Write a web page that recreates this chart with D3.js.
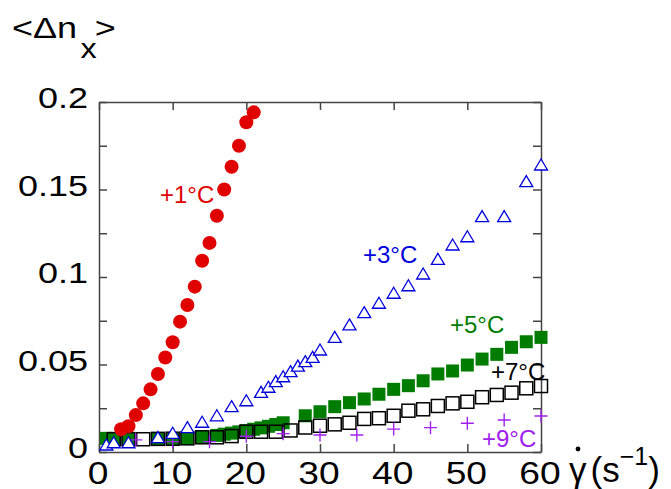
<!DOCTYPE html>
<meta charset="utf-8">
<style>
body { margin: 0; background: #fff; }
text { font-family: "Liberation Sans", Arial, sans-serif; }
</style>
<body>
<script src="https://d3js.org/d3.v7.min.js"></script>
<script>
// +1°C, filled red circles
var redX = [3, 4, 5, 6, 7, 8, 9, 10, 11, 12, 13, 14, 15, 16, 17, 18, 19, 20, 21];
var redY = [0.013, 0.0147, 0.0211, 0.0278, 0.0358, 0.0446, 0.054, 0.0627, 0.0745, 0.084,
            0.0945, 0.1093, 0.1195, 0.135, 0.150, 0.163, 0.175, 0.1884, 0.1941];
// +3°C, open blue triangles
var blueX = [1, 2, 4, 8, 10, 12, 14, 16, 18, 20, 22, 23, 24, 25, 26, 27, 28, 29, 30,
             32, 34, 36, 38, 40, 42, 44, 46, 48, 50, 52, 55, 58, 60];
var blueY = [0.004, 0.0053, 0.0053, 0.0082, 0.0107, 0.0139, 0.017, 0.0207, 0.0259, 0.0293,
             0.0341, 0.037, 0.0402, 0.043, 0.0459, 0.0491, 0.0516, 0.0541, 0.0583,
             0.0655, 0.0726, 0.0796, 0.085, 0.0907, 0.095, 0.1017, 0.1101, 0.1183, 0.123,
             0.1345, 0.1345, 0.1545, 0.164];
// +5°C, filled green squares
var greenX = [1, 2, 4, 8, 10, 12, 14, 16, 17, 18, 19, 20, 21, 22, 23, 24, 25,
              28, 30, 32, 34, 36, 38, 40, 42, 44, 46, 48, 50, 52, 54, 56, 58, 60];
var greenY = [0.0078, 0.0078, 0.0078, 0.0073, 0.0073, 0.0078, 0.0087, 0.0095, 0.0102, 0.0108,
              0.0115, 0.0122, 0.013, 0.0138, 0.0147, 0.0157, 0.0167,
              0.0207, 0.023, 0.0259, 0.0282, 0.0303, 0.033, 0.0358, 0.0379, 0.0407, 0.0446,
              0.0463, 0.0497, 0.0531, 0.0558, 0.0598, 0.063, 0.0655];
// +7°C, open black squares
var blackX = [2, 4, 6, 8, 10, 12, 14, 16, 18, 20, 22, 24, 26, 28, 30, 32, 34, 36, 38, 40,
              42, 44, 46, 48, 50, 52, 54, 56, 58, 60];
var blackY = [0.0073, 0.0073, 0.0073, 0.0075, 0.0076, 0.0078, 0.0084, 0.0084, 0.0091, 0.0116,
              0.0116, 0.0116, 0.0123, 0.014, 0.015, 0.0158, 0.0167, 0.0189, 0.0193, 0.0207,
              0.0236, 0.0244, 0.0263, 0.0278, 0.0287, 0.0313, 0.0326, 0.0339, 0.0364, 0.0377];
// +9°C, purple crosses
var purpleX = [5, 10, 15, 20, 25, 30, 35, 40, 45, 50, 55, 60];
var purpleY = [0.0069, 0.0059, 0.0059, 0.009, 0.0105, 0.0097, 0.0097, 0.0131, 0.0139,
               0.0164, 0.0183, 0.0206];

var xTicks = [0, 10, 20, 30, 40, 50, 60];
var yTicks = [0, 0.025, 0.05, 0.075, 0.1, 0.125, 0.15, 0.175, 0.2];
var yLabels = [0, 0.05, 0.1, 0.15, 0.2];

var width = 671, height = 489;
var mLeft = 99, mRight = 541, mTop = 102, mBottom = 452;
var sx = 1.2; // the axis lettering is drawn a bit wide

var x = d3.scaleLinear().domain([0, 60]).range([mLeft, mRight]);
var y = d3.scaleLinear().domain([0, 0.2]).range([mBottom, mTop]);

var svg = d3.select("body").append("svg")
    .attr("width", width)
    .attr("height", height);

// frame with inward ticks
var frameColor = "#444";
svg.append("g").attr("transform", "translate(" + mLeft + ",0)")
    .call(d3.axisLeft(y).tickValues(yTicks).tickSizeInner(-8).tickSizeOuter(0).tickFormat(""));
svg.append("g").attr("transform", "translate(" + mRight + ",0)")
    .call(d3.axisRight(y).tickValues(yTicks).tickSizeInner(-8).tickSizeOuter(0).tickFormat(""));
svg.append("g").attr("transform", "translate(0," + mBottom + ")")
    .call(d3.axisBottom(x).tickValues(xTicks).tickSizeInner(-8).tickSizeOuter(0).tickFormat(""));
svg.append("g").attr("transform", "translate(0," + mTop + ")")
    .call(d3.axisTop(x).tickValues(xTicks).tickSizeInner(-8).tickSizeOuter(0).tickFormat(""));
svg.selectAll(".domain, .tick line").attr("stroke", frameColor).attr("stroke-width", 1.5);

// tick labels
svg.selectAll(".ylab").data(yLabels).enter().append("text")
    .attr("transform", function(d) { return "translate(88," + (y(d) + 6) + ") scale(" + sx + ",1)"; })
    .attr("text-anchor", "end")
    .attr("font-size", 30)
    .text(function(d) { return String(d); });
svg.selectAll(".xlab").data(xTicks).enter().append("text")
    .attr("transform", function(d) { return "translate(" + (x(d) - 1) + ",484) scale(" + sx + ",1)"; })
    .attr("text-anchor", "middle")
    .attr("font-size", 31)
    .text(function(d) { return String(d); });

// axis titles
var yt = svg.append("g").attr("transform", "translate(12,38) scale(" + sx + ",1)");
yt.append("text").attr("font-size", 30).text("<Δn");
yt.append("text").attr("x", 57).attr("y", 20).attr("font-size", 27).text("x");
yt.append("text").attr("x", 69).attr("font-size", 30).text(">");

var xt = svg.append("text")
    .attr("x", 569).attr("y", 482)
    .attr("font-family", "'Liberation Serif', 'Times New Roman', serif")
    .attr("font-size", 35);
xt.append("tspan").text("γ");
xt.append("tspan").attr("dx", 4).text("(s");
xt.append("tspan").attr("dy", -17).attr("font-size", 25).text("−1");
xt.append("tspan").attr("dy", 17).text(")");
svg.append("circle").attr("cx", 578).attr("cy", 449).attr("r", 2.4).attr("fill", "#000");

// series
function pts(xs, ys) { return xs.map(function(v, i) { return [v, ys[i]]; }); }

var green = "#007d00", black = "#000", purple = "#a020f0", blue = "#0000dd", red = "#e00000";

svg.append("g").selectAll("rect").data(pts(greenX, greenY)).enter().append("rect")
    .attr("x", function(d) { return x(d[0]) - 6.5; })
    .attr("y", function(d) { return y(d[1]) - 6.5; })
    .attr("width", 13).attr("height", 13)
    .attr("fill", green);

svg.append("g").selectAll("rect").data(pts(blackX, blackY)).enter().append("rect")
    .attr("x", function(d) { return x(d[0]) - 6.5; })
    .attr("y", function(d) { return y(d[1]) - 6.5; })
    .attr("width", 13).attr("height", 13)
    .attr("fill", "none").attr("stroke", black).attr("stroke-width", 1.5);

svg.append("g").selectAll("path").data(pts(purpleX, purpleY)).enter().append("path")
    .attr("transform", function(d) { return "translate(" + x(d[0]) + "," + y(d[1]) + ")"; })
    .attr("d", "M-6.5,0H6.5M0,-6.5V6.5")
    .attr("stroke", purple).attr("stroke-width", 1.4).attr("fill", "none");

svg.append("g").selectAll("path").data(pts(blueX, blueY)).enter().append("path")
    .attr("transform", function(d) { return "translate(" + x(d[0]) + "," + y(d[1]) + ")"; })
    .attr("d", "M0,-6L6.5,5L-6.5,5Z")
    .attr("stroke", blue).attr("stroke-width", 1.3).attr("fill", "#fff");

svg.append("g").selectAll("circle").data(pts(redX, redY)).enter().append("circle")
    .attr("cx", function(d) { return x(d[0]); })
    .attr("cy", function(d) { return y(d[1]); })
    .attr("r", 7)
    .attr("fill", red);

// series labels
var labels = [
  {t: "+1°C", x: 160, y: 203, c: red},
  {t: "+3°C", x: 363, y: 263, c: blue},
  {t: "+5°C", x: 450, y: 333, c: green},
  {t: "+7°C", x: 491, y: 380, c: black},
  {t: "+9°C", x: 482, y: 447, c: purple}
];
svg.selectAll(".lab").data(labels).enter().append("text")
    .attr("x", function(d) { return d.x; })
    .attr("y", function(d) { return d.y; })
    .attr("font-size", 24)
    .attr("fill", function(d) { return d.c; })
    .text(function(d) { return d.t; });
</script>
</body>
